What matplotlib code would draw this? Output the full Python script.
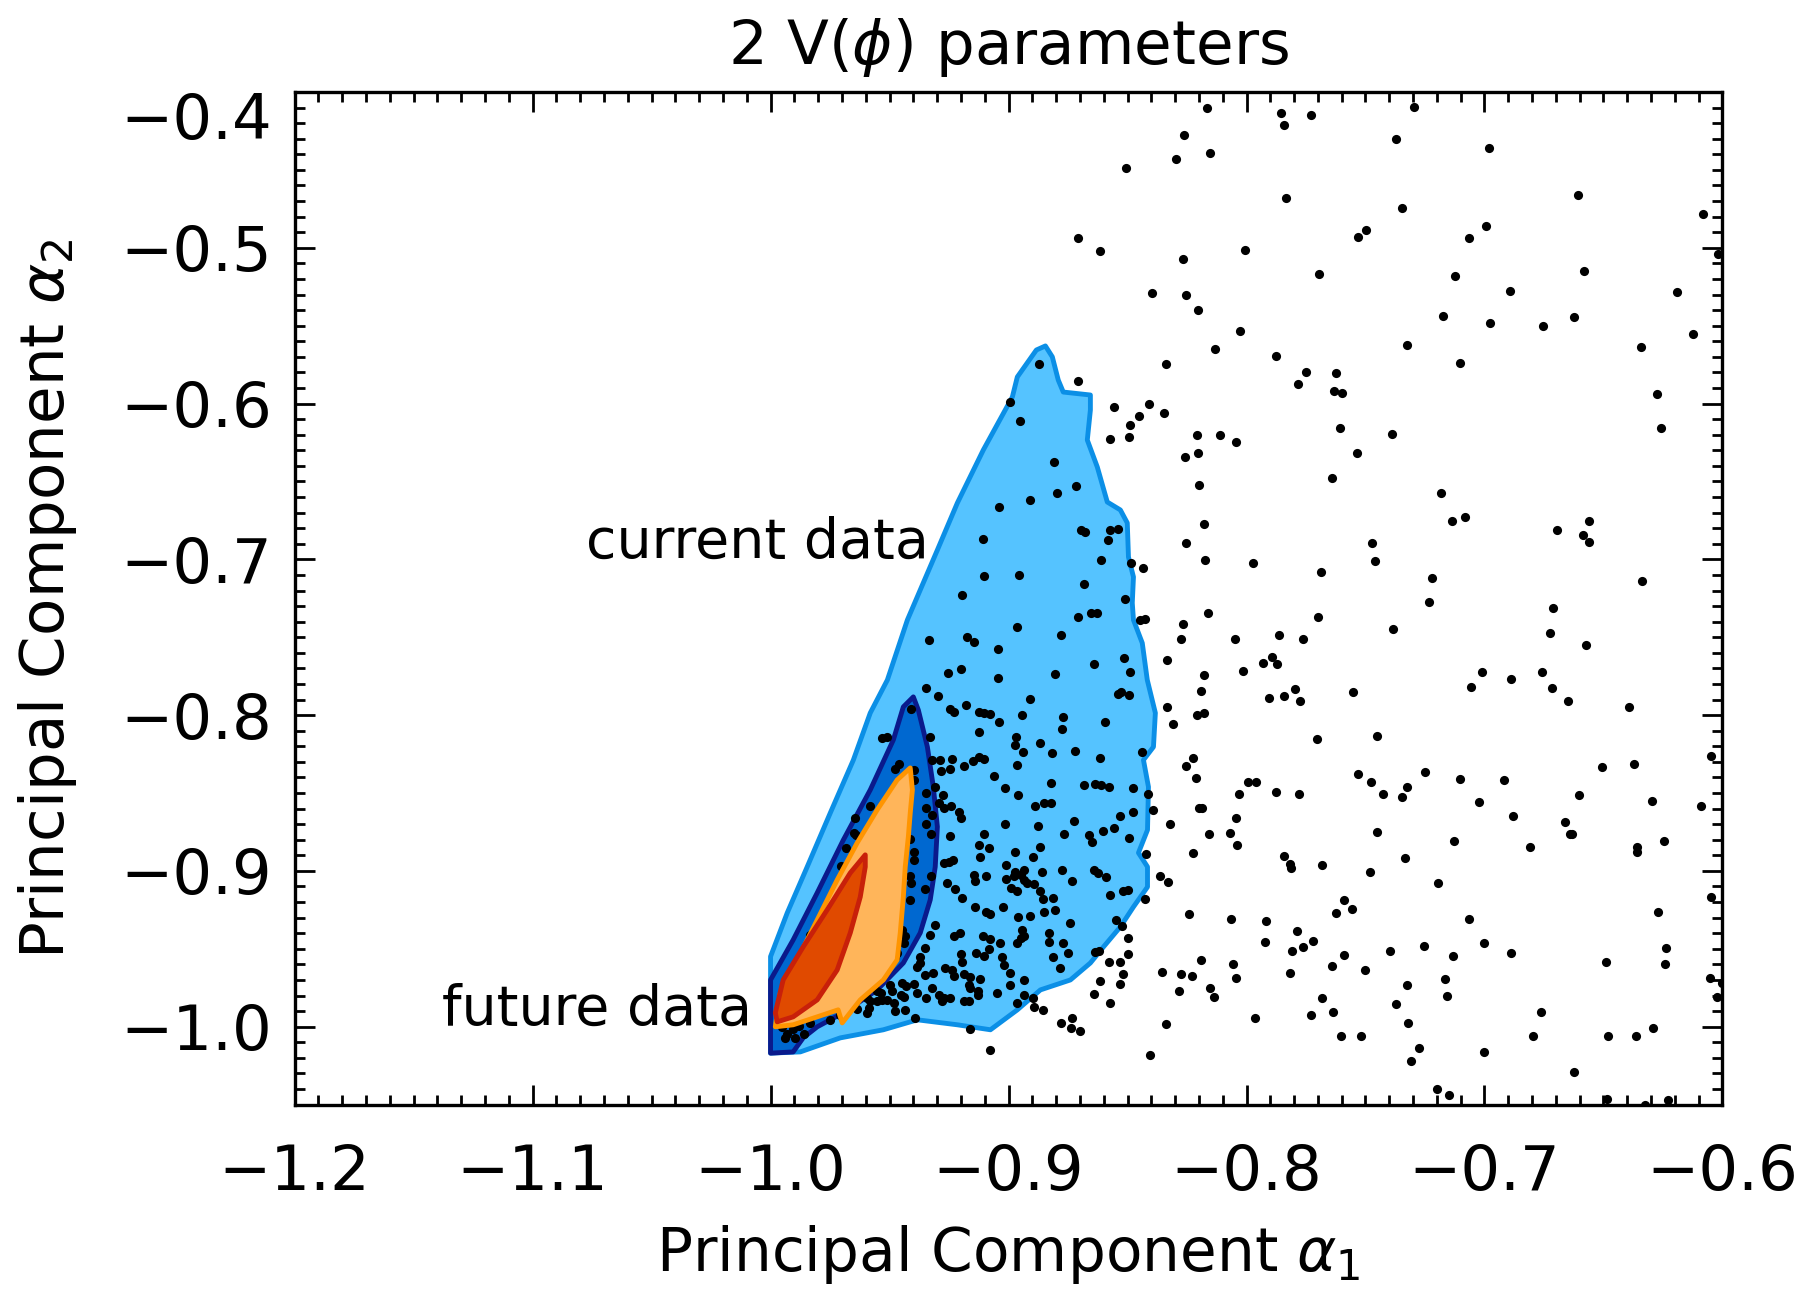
import numpy as np
import matplotlib
matplotlib.use("Agg")
import matplotlib.pyplot as plt
from matplotlib.ticker import MultipleLocator

# ---------------- data ----------------
title = r"2 V($\phi$) parameters"
xlabel = r"Principal Component $\alpha_1$"
ylabel = r"Principal Component $\alpha_2$"

xlim = (-1.2, -0.6)
ylim = (-1.05, -0.4)
xticks = [-1.2, -1.1, -1.0, -0.9, -0.8, -0.7, -0.6]
yticks = [-1.0, -0.9, -0.8, -0.7, -0.6, -0.5, -0.4]
xticklabels = ["\u22121.2", "\u22121.1", "\u22121.0", "\u22120.9", "\u22120.8", "\u22120.7", "\u22120.6"]
yticklabels = ["\u22121.0", "\u22120.9", "\u22120.8", "\u22120.7", "\u22120.6", "\u22120.5", "\u22120.4"]

# current data, 2-sigma region (light blue)
cur2_x = [-1.0, -1.0, -0.993, -0.9846, -0.9749, -0.9652, -0.9581, -0.9509, -0.9425, -0.9299,
          -0.9215, -0.9106, -0.8984, -0.8963, -0.8883, -0.8845, -0.8816, -0.8791, -0.877, -0.8656,
          -0.8656, -0.8669, -0.8627, -0.8585, -0.853, -0.8501, -0.8496, -0.8475, -0.848, -0.8475,
          -0.8438, -0.8417, -0.8383, -0.8391, -0.8433, -0.8412, -0.8416, -0.8454, -0.8416, -0.8416,
          -0.8475, -0.853, -0.8601, -0.8656, -0.874, -0.8866, -0.8963, -0.9076, -0.9215, -0.9383,
          -0.9526, -0.9707, -0.9875]
cur2_y = [-1.017, -0.955, -0.927, -0.8974, -0.8628, -0.8288, -0.7986, -0.7774, -0.7389, -0.694,
          -0.6638, -0.6298, -0.5958, -0.5829, -0.5656, -0.563, -0.570, -0.5849, -0.5926, -0.5945,
          -0.6041, -0.6234, -0.6407, -0.6632, -0.6683, -0.6766, -0.6985, -0.7113, -0.728, -0.7389,
          -0.7537, -0.7774, -0.7986, -0.8204, -0.8288, -0.8461, -0.8737, -0.8884, -0.8974, -0.9103,
          -0.9231, -0.9359, -0.9488, -0.9591, -0.970, -0.9764, -0.9892, -1.002, -0.9988, -0.9956,
          -1.002, -1.0072, -1.0162]

# current data, 1-sigma region (dark blue)
cur1_x = [-1.0, -1.0, -0.9905, -0.9804, -0.9694, -0.9581, -0.9484, -0.9442, -0.940, -0.9379,
          -0.9341, -0.9316, -0.9299, -0.9308, -0.9329, -0.9371, -0.9442, -0.9552, -0.9694, -0.9804,
          -0.9863, -0.9905]
cur1_y = [-1.017, -0.970, -0.9443, -0.9141, -0.8801, -0.848, -0.8159, -0.7947, -0.7883, -0.7967,
          -0.8204, -0.8461, -0.8717, -0.8974, -0.9186, -0.9398, -0.9591, -0.9764, -0.9911, -1.0001,
          -1.0072, -1.0162]

# future data, 2-sigma region (light orange)
fut2_x = [-0.9413, -0.9468, -0.9552, -0.9636, -0.972, -0.9804, -0.9888, -0.9959, -0.998, -0.9905,
          -0.9804, -0.9716, -0.9699, -0.9623, -0.9526, -0.9468, -0.9455, -0.9442, -0.9434, -0.9421,
          -0.9413, -0.9404]
fut2_y = [-0.8339, -0.8416, -0.8608, -0.882, -0.9058, -0.9315, -0.9571, -0.9783, -1.0001, -0.9988,
          -0.9937, -0.9892, -0.9976, -0.9828, -0.970, -0.9571, -0.9398, -0.9167, -0.8974, -0.8782,
          -0.8628, -0.848]

# future data, 1-sigma region (red-orange)
fut1_x = [-0.9602, -0.9665, -0.9762, -0.9863, -0.9947, -0.998, -0.9972, -0.9905, -0.9804, -0.972,
          -0.9665, -0.9623, -0.9602]
fut1_y = [-0.8897, -0.9013, -0.925, -0.9488, -0.970, -0.9911, -0.9969, -0.9937, -0.9828, -0.9636,
          -0.9398, -0.9167, -0.8974]

# Monte-Carlo sample points (alpha_1, alpha_2)
scatter_pts = [
    # upper middle
    (-0.8164, -0.4105), (-0.7853, -0.4137), (-0.7729, -0.4148), (-0.7842, -0.4212), (-0.8261, -0.4276),
    (-0.8155, -0.4394), (-0.8296, -0.4430), (-0.8506, -0.4486), (-0.7834, -0.4678), (-0.8709, -0.4937),
    (-0.8616, -0.5023), (-0.8267, -0.5070), (-0.8006, -0.5016), (-0.7694, -0.5168), (-0.8397, -0.5288),
    (-0.8255, -0.5301), (-0.8204, -0.5397), (-0.8026, -0.5532), (-0.8131, -0.5650), (-0.8337, -0.5744),
    (-0.7876, -0.5697), (-0.8873, -0.5748), (-0.8708, -0.5857), (-0.7750, -0.5799), (-0.7626, -0.5804),
    (-0.7785, -0.5874), (-0.7633, -0.5917), (-0.7598, -0.5930), (-0.8555, -0.6024), (-0.8411, -0.6003),
    (-0.8450, -0.6082), (-0.8347, -0.6058), (-0.8993, -0.5988),
    # upper right
    (-0.7296, -0.4098), (-0.7371, -0.4304), (-0.6980, -0.4362), (-0.6605, -0.4663), (-0.6081, -0.4783),
    (-0.7345, -0.4747), (-0.7531, -0.4929), (-0.7496, -0.4888), (-0.6994, -0.4862), (-0.7063, -0.4937),
    (-0.6018, -0.5040), (-0.6581, -0.5147), (-0.7122, -0.5181), (-0.6894, -0.5280), (-0.6193, -0.5284),
    (-0.7175, -0.5438), (-0.6976, -0.5481), (-0.6755, -0.5502), (-0.6622, -0.5442), (-0.6124, -0.5553),
    (-0.7324, -0.5624), (-0.7104, -0.5742), (-0.6341, -0.5639), (-0.6277, -0.5938),
    # inside the blue region, upper part
    (-0.8952, -0.6110), (-0.8807, -0.6373), (-0.8572, -0.6229), (-0.8492, -0.6212), (-0.8489, -0.6137),
    (-0.8798, -0.6576), (-0.8715, -0.6531), (-0.8911, -0.6619), (-0.9040, -0.6662), (-0.9106, -0.6871),
    (-0.8694, -0.6814), (-0.8677, -0.6826), (-0.8572, -0.6814), (-0.8541, -0.6805), (-0.8582, -0.6876),
    (-0.8610, -0.7006), (-0.9101, -0.7104), (-0.8957, -0.7100), (-0.8683, -0.7156), (-0.8484, -0.7025),
    (-0.8435, -0.7053), (-0.9196, -0.7228), (-0.8512, -0.7256), (-0.8652, -0.7342), (-0.8628, -0.7342),
    (-0.8708, -0.7372), (-0.8449, -0.7389), (-0.8425, -0.7382), (-0.8966, -0.7432), (-0.8781, -0.7485),
    (-0.9336, -0.7517), (-0.9175, -0.7500), (-0.9144, -0.7528), (-0.9046, -0.7575), (-0.8513, -0.7635),
    (-0.8639, -0.7672), (-0.8488, -0.7725), (-0.9254, -0.7727), (-0.9200, -0.7706), (-0.9044, -0.7759),
    (-0.8806, -0.7736),
    # middle right
    (-0.7608, -0.6159), (-0.7387, -0.6195), (-0.8209, -0.6202), (-0.8111, -0.6202), (-0.8043, -0.6244),
    (-0.8258, -0.6341), (-0.8204, -0.6315), (-0.7535, -0.6315), (-0.7640, -0.6480), (-0.8199, -0.6523),
    (-0.8178, -0.6775), (-0.8254, -0.6893), (-0.8176, -0.7004), (-0.7974, -0.7025), (-0.7685, -0.7081),
    (-0.7472, -0.6895), (-0.7458, -0.7013), (-0.7220, -0.7117), (-0.7234, -0.7273), (-0.8163, -0.7344),
    (-0.8268, -0.7413), (-0.8274, -0.7511), (-0.8049, -0.7509), (-0.7862, -0.7485), (-0.7761, -0.7513),
    (-0.7698, -0.7368), (-0.7383, -0.7445), (-0.8334, -0.7646), (-0.7893, -0.7624), (-0.7932, -0.7667),
    (-0.7870, -0.7669), (-0.8014, -0.7714), (-0.8177, -0.7740), (-0.8192, -0.7845), (-0.7905, -0.7887),
    (-0.7842, -0.7877), (-0.7797, -0.7830), (-0.7775, -0.7909), (-0.7553, -0.7851), (-0.8333, -0.7950),
    (-0.8309, -0.8059), (-0.8208, -0.8001), (-0.8178, -0.7988), (-0.7702, -0.8153), (-0.7451, -0.8136),
    (-0.6257, -0.6159), (-0.7181, -0.6576), (-0.7135, -0.6756), (-0.7080, -0.6730), (-0.6697, -0.6814),
    (-0.6559, -0.6756), (-0.6585, -0.6846), (-0.6559, -0.6886), (-0.6336, -0.7137), (-0.6713, -0.7312),
    (-0.6724, -0.7470), (-0.6575, -0.7547), (-0.7010, -0.7723), (-0.6889, -0.7768), (-0.6758, -0.7721),
    (-0.7057, -0.7817), (-0.6718, -0.7828), (-0.6650, -0.7909), (-0.6393, -0.7950),
    # lower right
    (-0.8225, -0.8273), (-0.8253, -0.8326), (-0.8213, -0.8405), (-0.7993, -0.8431), (-0.7960, -0.8427),
    (-0.8033, -0.8504), (-0.7874, -0.8495), (-0.7778, -0.8508), (-0.7533, -0.8380), (-0.7478, -0.8427),
    (-0.7426, -0.8506), (-0.7345, -0.8523), (-0.7325, -0.8463), (-0.7252, -0.8365), (-0.8393, -0.8609),
    (-0.8201, -0.8594), (-0.8187, -0.8598), (-0.8320, -0.8698), (-0.8157, -0.8763), (-0.8069, -0.8756),
    (-0.8045, -0.8660), (-0.8041, -0.8837), (-0.8223, -0.8882), (-0.7451, -0.8748), (-0.7844, -0.8902),
    (-0.7816, -0.8957), (-0.7814, -0.8983), (-0.7682, -0.8964), (-0.7334, -0.8919), (-0.7479, -0.9009),
    (-0.8363, -0.9030), (-0.8330, -0.9071), (-0.7590, -0.9188), (-0.7555, -0.9242), (-0.7624, -0.9268),
    (-0.8243, -0.9276), (-0.8065, -0.9310), (-0.7918, -0.9323), (-0.7789, -0.9383), (-0.7923, -0.9458),
    (-0.7807, -0.9514), (-0.7761, -0.9490), (-0.7720, -0.9450), (-0.7590, -0.9537), (-0.7640, -0.9610),
    (-0.7397, -0.9516), (-0.7254, -0.9481), (-0.7503, -0.9636), (-0.8355, -0.9646), (-0.8276, -0.9659),
    (-0.8227, -0.9674), (-0.8192, -0.9571), (-0.8057, -0.9597), (-0.8045, -0.9687), (-0.8152, -0.9749),
    (-0.8138, -0.9807), (-0.8282, -0.9768), (-0.7817, -0.9653), (-0.7681, -0.9817), (-0.7325, -0.9732),
    (-0.7371, -0.9856), (-0.7730, -0.9922), (-0.7636, -0.9905), (-0.7965, -0.9946), (-0.8338, -0.9984),
    (-0.7321, -0.9978), (-0.7604, -1.0057), (-0.7517, -1.0063), (-0.7277, -1.0134), (-0.7307, -1.0222),
    (-0.8404, -1.0181),
    (-0.6047, -0.8262), (-0.7101, -0.8410), (-0.6920, -0.8418), (-0.6508, -0.8335), (-0.6371, -0.8313),
    (-0.7024, -0.8555), (-0.6602, -0.8514), (-0.6297, -0.8549), (-0.6091, -0.8583), (-0.6881, -0.8647),
    (-0.6660, -0.8688), (-0.6641, -0.8760), (-0.6632, -0.8765), (-0.7126, -0.8808), (-0.6809, -0.8844),
    (-0.6360, -0.8846), (-0.6361, -0.8878), (-0.6245, -0.8808), (-0.7195, -0.9079), (-0.6050, -0.9165),
    (-0.6269, -0.9265), (-0.7067, -0.9308), (-0.7004, -0.9462), (-0.6889, -0.9526), (-0.7133, -0.9546),
    (-0.6238, -0.9497), (-0.6491, -0.9588), (-0.6242, -0.9597), (-0.7164, -0.9696), (-0.7158, -0.9805),
    (-0.6054, -0.9689), (-0.6022, -0.9811), (-0.6003, -0.9717), (-0.6762, -0.9903), (-0.6795, -1.0057),
    (-0.6483, -1.0057), (-0.6365, -1.0057), (-0.6292, -1.0008), (-0.7003, -1.0160), (-0.6623, -1.0292),
    (-0.7199, -1.0401), (-0.7150, -1.0438), (-0.6484, -1.0463), (-0.6326, -1.0502), (-0.6229, -1.0474),
    # inside the blue region, lower part
    (-0.9345, -0.7827), (-0.9298, -0.7875), (-0.8908, -0.7898), (-0.8540, -0.7864), (-0.8526, -0.7849),
    (-0.8492, -0.7870), (-0.9410, -0.7962), (-0.9245, -0.7962), (-0.9231, -0.7982), (-0.9177, -0.7934),
    (-0.9123, -0.7977), (-0.9104, -0.7988), (-0.9076, -0.7994), (-0.8943, -0.7999), (-0.8772, -0.8014),
    (-0.9039, -0.8046), (-0.8593, -0.8041), (-0.8775, -0.8091), (-0.9126, -0.8110), (-0.9331, -0.8138),
    (-0.9532, -0.8148), (-0.9511, -0.8142), (-0.8967, -0.8142), (-0.8869, -0.8176), (-0.8974, -0.8195),
    (-0.8941, -0.8234), (-0.8817, -0.8240), (-0.8719, -0.8230), (-0.8617, -0.8277), (-0.8439, -0.8234),
    (-0.9322, -0.8287), (-0.9287, -0.8287), (-0.9238, -0.8281), (-0.9149, -0.8294), (-0.9124, -0.8270),
    (-0.9104, -0.8281), (-0.8964, -0.8322), (-0.9189, -0.8326), (-0.9459, -0.8313), (-0.9479, -0.8347),
    (-0.9282, -0.8356), (-0.9245, -0.8347), (-0.9399, -0.8352), (-0.9062, -0.8390), (-0.8821, -0.8433),
    (-0.8684, -0.8448), (-0.8635, -0.8444), (-0.8610, -0.8448), (-0.8576, -0.8463), (-0.8477, -0.8471),
    (-0.9014, -0.8465), (-0.9396, -0.8416), (-0.9308, -0.8463), (-0.9348, -0.8497), (-0.8962, -0.8514),
    (-0.9276, -0.8516), (-0.8414, -0.8506), (-0.9584, -0.8581), (-0.9294, -0.8566), (-0.9273, -0.8598),
    (-0.9240, -0.8583), (-0.9209, -0.8619), (-0.9198, -0.8662), (-0.9345, -0.8598), (-0.8887, -0.8583),
    (-0.8852, -0.8566), (-0.8823, -0.8566), (-0.8533, -0.8645), (-0.8477, -0.8621), (-0.9647, -0.8662),
    (-0.9347, -0.8698), (-0.9322, -0.8641), (-0.9015, -0.8698), (-0.8877, -0.8715), (-0.8724, -0.8679),
    (-0.8603, -0.8741), (-0.8558, -0.8726), (-0.9651, -0.8758), (-0.9642, -0.8768), (-0.9327, -0.8762),
    (-0.9245, -0.8775), (-0.9104, -0.8762), (-0.8768, -0.8762), (-0.8663, -0.8769), (-0.8649, -0.8812),
    (-0.8492, -0.8790), (-0.9415, -0.8797), (-0.9683, -0.8854), (-0.9122, -0.8837), (-0.9084, -0.8854),
    (-0.8869, -0.8844), (-0.9399, -0.8876), (-0.9399, -0.8929), (-0.8971, -0.8880), (-0.8421, -0.8891),
    (-0.9118, -0.8908), (-0.8897, -0.8908), (-0.9273, -0.8951), (-0.9252, -0.8940), (-0.9235, -0.8929),
    (-0.9011, -0.8961), (-0.9704, -0.8968), (-0.8936, -0.8994), (-0.8971, -0.9004), (-0.8948, -0.9025),
    (-0.8975, -0.9036), (-0.8859, -0.9009), (-0.8775, -0.8994), (-0.8642, -0.8994), (-0.8624, -0.9015),
    (-0.8589, -0.9041), (-0.9415, -0.9032), (-0.9324, -0.9036), (-0.9147, -0.9025), (-0.9142, -0.9068),
    (-0.9093, -0.9032), (-0.9010, -0.9051), (-0.8934, -0.9058), (-0.8922, -0.9079), (-0.8892, -0.9083),
    (-0.8733, -0.9068), (-0.9408, -0.9075), (-0.9258, -0.9075), (-0.9226, -0.9118), (-0.8990, -0.9111),
    (-0.8964, -0.9128), (-0.8866, -0.9132), (-0.8572, -0.9154), (-0.8519, -0.9132), (-0.8498, -0.9122),
    (-0.8425, -0.9178), (-0.9350, -0.9118), (-0.9196, -0.9175), (-0.9413, -0.9190), (-0.8855, -0.9182),
    (-0.8813, -0.9175), (-0.9142, -0.9235), (-0.9025, -0.9235), (-0.8852, -0.9265), (-0.8806, -0.9250),
    (-0.9093, -0.9265), (-0.9076, -0.9278), (-0.8962, -0.9293), (-0.8911, -0.9289), (-0.8548, -0.9314),
    (-0.8741, -0.9336), (-0.9308, -0.9347), (-0.8943, -0.9379), (-0.8947, -0.9432), (-0.8936, -0.9421),
    (-0.8831, -0.9400), (-0.8831, -0.9454), (-0.8523, -0.9357), (-0.8499, -0.9432), (-0.9329, -0.9411),
    (-0.9231, -0.9417), (-0.9203, -0.9400), (-0.9109, -0.9415), (-0.9079, -0.9436), (-0.9036, -0.9464),
    (-0.8965, -0.9460), (-0.8771, -0.9460), (-0.9350, -0.9496), (-0.9081, -0.9503), (-0.8635, -0.9522),
    (-0.8621, -0.9513), (-0.8498, -0.9533), (-0.8750, -0.9529), (-0.9201, -0.9533), (-0.9138, -0.9529),
    (-0.9104, -0.9546), (-0.9027, -0.9556), (-0.8815, -0.9554), (-0.9374, -0.9556), (-0.9469, -0.9529),
    (-0.9476, -0.9550), (-0.9441, -0.9464), (-0.9434, -0.9421), (-0.9448, -0.9379), (-0.8576, -0.9588),
    (-0.8530, -0.9588), (-0.9196, -0.9588), (-0.9385, -0.9614), (-0.9371, -0.9592), (-0.9265, -0.9625),
    (-0.9238, -0.9635), (-0.9021, -0.9603), (-0.8782, -0.9625), (-0.8993, -0.9657), (-0.8519, -0.9663),
    (-0.9352, -0.9667), (-0.9319, -0.9657), (-0.9189, -0.9663), (-0.9161, -0.9678), (-0.9119, -0.9695),
    (-0.8936, -0.9700), (-0.9231, -0.9674), (-0.8617, -0.9710), (-0.8530, -0.9725), (-0.9448, -0.9721),
    (-0.9430, -0.9742), (-0.9396, -0.9725), (-0.8993, -0.9732), (-0.9168, -0.9732), (-0.9161, -0.9753),
    (-0.9497, -0.9732), (-0.9490, -0.9774), (-0.9553, -0.9774), (-0.9535, -0.9785), (-0.9322, -0.9753),
    (-0.9128, -0.9774), (-0.9128, -0.9796), (-0.9049, -0.9781), (-0.8936, -0.9796), (-0.8642, -0.9792),
    (-0.9450, -0.9796), (-0.9438, -0.9807), (-0.9385, -0.9785), (-0.9291, -0.9796), (-0.9273, -0.9817),
    (-0.9347, -0.9817), (-0.9247, -0.9817), (-0.8897, -0.9817), (-0.9595, -0.9817), (-0.9581, -0.9838),
    (-0.9553, -0.9838), (-0.9532, -0.9828), (-0.9511, -0.9828), (-0.9189, -0.9838), (-0.9168, -0.9838),
    (-0.9280, -0.9838), (-0.8572, -0.9845), (-0.9483, -0.9845), (-0.8964, -0.9845), (-0.9637, -0.9886),
    (-0.9587, -0.9882), (-0.9595, -0.9914), (-0.9437, -0.9892), (-0.9476, -0.9899), (-0.8894, -0.9875),
    (-0.8855, -0.9892), (-0.9707, -0.9924), (-0.9833, -0.9978), (-0.9749, -0.9957), (-0.9392, -0.9946),
    (-0.8778, -0.9978), (-0.8733, -0.9946), (-0.8736, -1.0010), (-0.8701, -1.0031), (-0.9160, -1.0014),
    (-0.9076, -1.0149), (-0.9952, -1.0000), (-0.9931, -1.0044), (-0.9906, -1.0016), (-0.9882, -0.9995),
    (-0.9938, -1.0071), (-0.9896, -1.0071), (-0.9861, -1.0050), (-0.9833, -0.9411), (-0.9791, -0.9314),
]

label_current = "current data"
label_future = "future data"
label_current_pos = (-0.9335, -0.6895)
label_future_pos = (-1.008, -0.9892)

# ---------------- plot ----------------
plt.rcParams['font.family'] = ['DejaVu Sans']
plt.rcParams['mathtext.fontset'] = 'dejavusans'

fig = plt.figure(figsize=(18.04, 12.89), dpi=100)
ax = fig.add_axes([0.1633, 0.1431, 0.7915, 0.7855])

pts = np.array(scatter_pts)

ax.fill(cur2_x, cur2_y, facecolor='#55C3FF', edgecolor='#0B8FE6', linewidth=3.5,
        joinstyle='round', zorder=1)
ax.fill(cur1_x, cur1_y, facecolor='#0068D0', edgecolor='#0A1A8C', linewidth=3.5,
        joinstyle='round', zorder=2)
ax.plot(pts[:, 0], pts[:, 1], 'o', color='black', markersize=6.6, markeredgewidth=0,
        zorder=3, clip_on=True)
ax.fill(fut2_x, fut2_y, facecolor='#FFB55A', edgecolor='#FF9500', linewidth=3.5,
        joinstyle='round', zorder=4)
ax.fill(fut1_x, fut1_y, facecolor='#E04A00', edgecolor='#C8200A', linewidth=3.5,
        joinstyle='round', zorder=5)

ax.text(label_current_pos[0], label_current_pos[1], label_current, ha='right', va='center',
        fontsize=40, zorder=6)
ax.text(label_future_pos[0], label_future_pos[1], label_future, ha='right', va='center',
        fontsize=40, zorder=6)

ax.set_xlim(*xlim)
ax.set_ylim(*ylim)
ax.set_xticks(xticks)
ax.set_xticklabels(xticklabels)
ax.set_yticks(yticks)
ylabs = ax.set_yticklabels(yticklabels)
ylabs[-1].set_verticalalignment('top')
ax.xaxis.set_minor_locator(MultipleLocator(0.01))
ax.yaxis.set_minor_locator(MultipleLocator(0.01))

ax.tick_params(which='both', direction='in', top=True, right=True, width=2.0, color='black')
ax.tick_params(which='major', length=14.5)
ax.tick_params(which='minor', length=7)
ax.tick_params(axis='x', which='major', labelsize=45, pad=28)
ax.tick_params(axis='y', which='major', labelsize=45, pad=16)
for s in ax.spines.values():
    s.set_linewidth(2.4)

ax.set_title(title, fontsize=44, pad=20)
ax.set_xlabel(xlabel, fontsize=43, labelpad=14)
ax.set_ylabel(ylabel, fontsize=44, labelpad=30)

fig.savefig("out.png", dpi=100, facecolor='white')
